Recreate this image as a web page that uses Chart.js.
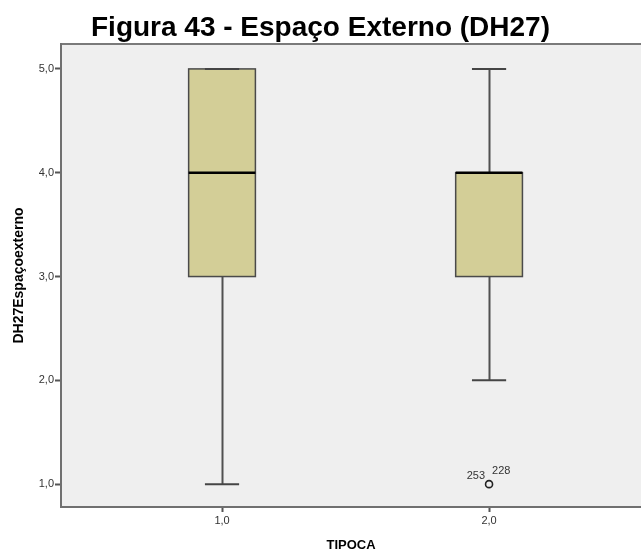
<!DOCTYPE html>
<html>
<head>
<meta charset="utf-8">
<script src="https://cdn.jsdelivr.net/npm/chart.js@4.4.1/dist/chart.umd.min.js"></script>
<style>
  html, body { margin: 0; padding: 0; background: #ffffff; overflow: hidden; }
  #wrap { width: 641px; height: 554px; }
</style>
</head>
<body>
<div id="wrap"><canvas id="c" width="641" height="554"></canvas></div>
<script>
// TIPOCA groups and the five-number summary of DH27 for each group
const categories   = [1, 2];
const whiskerLow   = [1, 2];
const lowerQuart   = [3, 3];
const medians      = [4, 4];
const upperQuart   = [5, 4];
const whiskerHigh  = [5, 5];

// outliers: group, value and case numbers printed beside the marker
const outlierGroup  = [2];
const outlierValue  = [1];
const outlierCases  = [['253', '228']];

// axis ticks
const yTicks = [1, 2, 3, 4, 5];
const xTicks = [1, 2];

const FONT = "'Liberation Sans', Arial, sans-serif";
const commaFmt = v => Number(v).toFixed(1).replace('.', ',');

// drop the label overhang padding so the plot panel keeps its fixed size
const noPad = s => { s.paddingLeft = 0; s.paddingRight = 0; s.paddingTop = 0; s.paddingBottom = 0; };

// plot panel: grey fill and top rule
const panelPlugin = {
  id: 'panel',
  beforeDraw(chart) {
    const { ctx, chartArea: a } = chart;
    ctx.save();
    ctx.fillStyle = '#efefef';
    ctx.fillRect(a.left, a.top, a.right - a.left, a.bottom - a.top);
    ctx.strokeStyle = '#7a7a7a';
    ctx.lineWidth = 2;
    ctx.beginPath();
    ctx.moveTo(a.left, a.top);
    ctx.lineTo(a.right, a.top);
    ctx.stroke();
    ctx.restore();
  }
};

// box-and-whisker marks, positioned through the chart scales
const boxPlugin = {
  id: 'boxes',
  beforeDatasetsDraw(chart) {
    const { ctx } = chart;
    const xs = chart.scales.x, ys = chart.scales.y;
    const boxHalf = 0.125, capHalf = 0.064;
    ctx.save();
    categories.forEach((c, i) => {
      const xc = Math.round(xs.getPixelForValue(c)) + 0.5;
      const xl = xs.getPixelForValue(c - boxHalf);
      const xr = xs.getPixelForValue(c + boxHalf);
      const cl = xs.getPixelForValue(c - capHalf);
      const cr = xs.getPixelForValue(c + capHalf);
      const yLo = ys.getPixelForValue(whiskerLow[i]);
      const yQ1 = ys.getPixelForValue(lowerQuart[i]);
      const yMd = ys.getPixelForValue(medians[i]);
      const yQ3 = ys.getPixelForValue(upperQuart[i]);
      const yHi = ys.getPixelForValue(whiskerHigh[i]);

      // whisker stems
      ctx.strokeStyle = '#505050';
      ctx.lineWidth = 2;
      ctx.beginPath();
      ctx.moveTo(xc, yLo); ctx.lineTo(xc, yQ1);
      ctx.moveTo(xc, yQ3); ctx.lineTo(xc, yHi);
      ctx.stroke();

      // box
      ctx.fillStyle = '#d3ce97';
      ctx.fillRect(xl, yQ3, xr - xl, yQ1 - yQ3);
      ctx.strokeStyle = '#4a4a4a';
      ctx.lineWidth = 1.5;
      ctx.strokeRect(xl, yQ3, xr - xl, yQ1 - yQ3);

      // whisker caps
      ctx.strokeStyle = '#454545';
      ctx.lineWidth = 2;
      ctx.beginPath();
      ctx.moveTo(cl, yLo); ctx.lineTo(cr, yLo);
      ctx.moveTo(cl, yHi); ctx.lineTo(cr, yHi);
      ctx.stroke();

      // median
      ctx.strokeStyle = '#000000';
      ctx.lineWidth = 2.5;
      ctx.beginPath();
      ctx.moveTo(xl, yMd); ctx.lineTo(xr, yMd);
      ctx.stroke();
    });
    ctx.restore();
  },
  afterDatasetsDraw(chart) {
    const { ctx } = chart;
    const xs = chart.scales.x, ys = chart.scales.y;
    ctx.save();
    ctx.font = '11px ' + FONT;
    ctx.fillStyle = '#333333';
    ctx.textBaseline = 'alphabetic';
    outlierGroup.forEach((g, i) => {
      const px = xs.getPixelForValue(g);
      const py = ys.getPixelForValue(outlierValue[i]);
      const [left, right] = outlierCases[i];
      ctx.textAlign = 'right';
      ctx.fillText(left, px - 4, py - 5);
      ctx.textAlign = 'left';
      ctx.fillText(right, px + 3, py - 10);
    });
    ctx.restore();
  }
};

new Chart(document.getElementById('c'), {
  type: 'scatter',
  data: {
    datasets: [{
      label: 'outliers',
      data: outlierGroup.map((g, i) => ({ x: g, y: outlierValue[i] })),
      pointStyle: 'circle',
      pointRadius: 3.5,
      pointHoverRadius: 3.5,
      borderWidth: 1.6,
      borderColor: '#222222',
      backgroundColor: 'rgba(0,0,0,0)'
    }]
  },
  options: {
    responsive: false,
    animation: false,
    events: [],
    layout: { padding: 0, autoPadding: false },
    plugins: {
      legend: { display: false },
      tooltip: { enabled: false },
      title: {
        display: true,
        text: 'Figura 43 - Espaço Externo (DH27)',
        color: '#000000',
        font: { family: FONT, size: 28, weight: 'bold', lineHeight: 1.1 },
        padding: { top: 13, bottom: 0.2 }
      }
    },
    scales: {
      x: {
        type: 'linear',
        min: 0.397,
        max: 2.569,
        afterBuildTicks: s => { s.ticks = xTicks.map(v => ({ value: v })); },
        afterFit: s => { s.height = 47; noPad(s); },
        ticks: {
          callback: v => commaFmt(v),
          color: '#333333',
          font: { family: FONT, size: 11 },
          padding: 2,
          maxRotation: 0
        },
        grid: { drawOnChartArea: false, drawTicks: true, tickLength: 5, tickColor: '#555555', tickWidth: 2 },
        border: { display: true, color: '#707070', width: 2 },
        title: {
          display: true,
          text: 'TIPOCA',
          color: '#000000',
          font: { family: FONT, size: 13, weight: 'bold' },
          padding: { top: 0, bottom: 1 }
        }
      },
      y: {
        type: 'linear',
        min: 0.78,
        max: 5.24,
        afterBuildTicks: s => { s.ticks = yTicks.map(v => ({ value: v })); },
        afterFit: s => { s.width = 61; noPad(s); },
        ticks: {
          callback: v => commaFmt(v),
          color: '#333333',
          font: { family: FONT, size: 11 },
          padding: 1
        },
        grid: { drawOnChartArea: false, drawTicks: true, tickLength: 6, tickColor: '#555555', tickWidth: 2 },
        border: { display: true, color: '#707070', width: 2 },
        title: {
          display: true,
          text: 'DH27Espaçoexterno',
          color: '#000000',
          font: { family: FONT, size: 14, weight: 'bold' },
          padding: { top: 11, bottom: 0 }
        }
      }
    }
  },
  plugins: [panelPlugin, boxPlugin]
});
</script>
</body>
</html>
